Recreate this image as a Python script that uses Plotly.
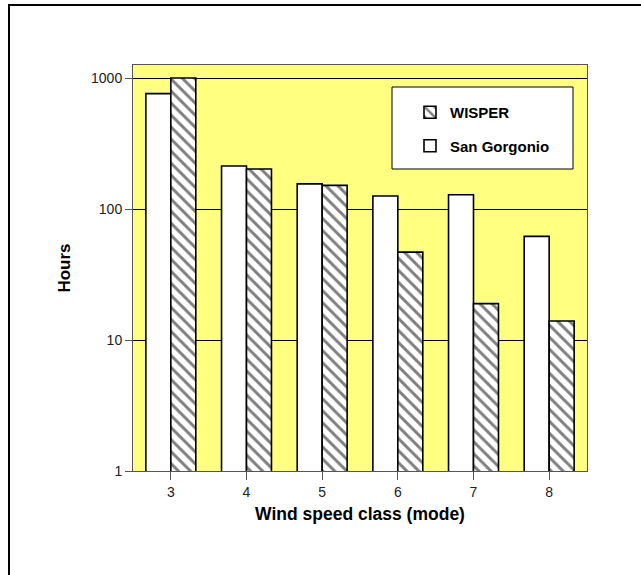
import plotly.graph_objects as go

categories = [3, 4, 5, 6, 7, 8]
san_gorgonio = [764, 214, 156, 126, 129, 62]
wisper = [1005, 203, 152, 47, 19, 14]
y_ticks = [1, 10, 100, 1000]

FONT = "Arial, Liberation Sans, sans-serif"
W, H = 641, 575
L, R, T, B = 133, 587, 65, 471


def px(x):
    return (x - L) / (R - L)


def py(y):
    return (B - y) / (B - T)


fig = go.Figure()
fig.add_trace(go.Bar(
    x=categories, y=san_gorgonio, name="San Gorgonio", legendgroup="sg",
    legendrank=2,
    marker=dict(color="white", line=dict(color="black", width=1.6)),
))
fig.add_trace(go.Bar(
    x=categories, y=wisper, name="WISPER", legendgroup="w",
    legendrank=1,
    marker=dict(color="white", line=dict(color="black", width=1.6),
                pattern=dict(shape="\\", fgcolor="black", bgcolor="white",
                             size=8.5, solidity=0.35)),
))

shapes = [
    # outer frame
    dict(type="rect", xref="paper", yref="paper",
         x0=px(9), x1=px(700), y0=py(600), y1=py(5),
         line=dict(color="black", width=2), fillcolor="rgba(0,0,0,0)", layer="below"),
    # legend box
    dict(type="rect", xref="paper", yref="paper",
         x0=px(392), x1=px(573), y0=py(169), y1=py(87),
         line=dict(color="black", width=1), fillcolor="white", layer="above"),
]

fig.update_layout(
    width=W, height=H,
    margin=dict(l=L, r=W - R, t=T, b=H - B),
    paper_bgcolor="white",
    plot_bgcolor="#FFFF80",
    barmode="group",
    bargap=0.34,
    bargroupgap=0,
    font=dict(family=FONT, size=14, color="#222"),
    shapes=shapes,
    showlegend=True,
    legend=dict(
        x=px(398), y=py(96), xanchor="left", yanchor="top",
        bgcolor="rgba(0,0,0,0)", borderwidth=0,
        traceorder="grouped", tracegroupgap=11,
        font=dict(family=FONT, size=15, color="black", weight="bold"),
        indentation=12,
    ),
    xaxis=dict(
        range=[2.5, 8.5], tickmode="array", tickvals=categories,
        ticks="outside", ticklen=8, tickcolor="#555",
        showline=True, linecolor="#555", linewidth=1, mirror=True,
        showgrid=False, zeroline=False,
        title=dict(text="<b>Wind speed class (mode)</b>",
                   font=dict(family=FONT, size=17.5, color="black"), standoff=8),
    ),
    yaxis=dict(
        type="log", range=[0, 3.1016], tickmode="array", tickvals=y_ticks,
        ticktext=[str(v) for v in y_ticks],
        ticks="outside", ticklen=7, tickcolor="#555",
        showline=True, linecolor="#555", linewidth=1, mirror=True,
        showgrid=True, gridcolor="black", gridwidth=1, zeroline=False,
        title=dict(text="<b>Hours</b>",
                   font=dict(family=FONT, size=17, color="black"), standoff=16),
    ),
)

fig.write_html("out.html")
